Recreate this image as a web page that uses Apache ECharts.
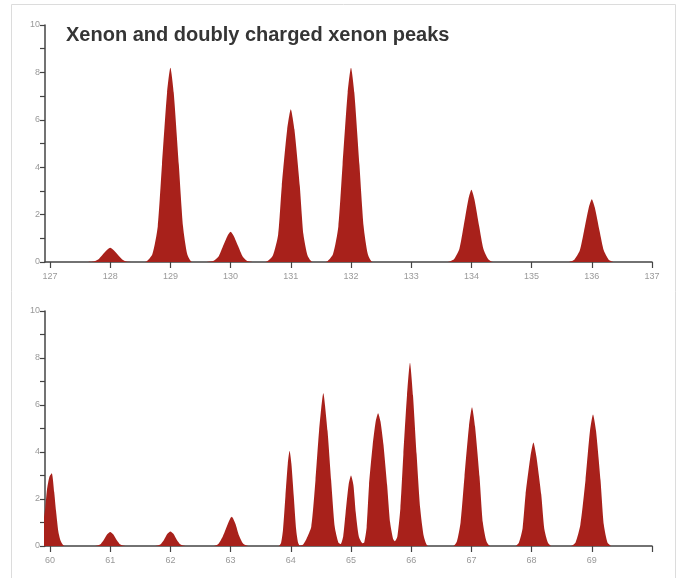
<!DOCTYPE html>
<html>
<head>
<meta charset="utf-8">
<script src="https://cdn.jsdelivr.net/npm/echarts@6/dist/echarts.min.js"></script>
<style>
  html, body { margin: 0; padding: 0; background: #fff; }
  #chart { width: 680px; height: 578px; }
</style>
</head>
<body>
<div id="chart"></div>
<script>
// top panel: xenon peaks as [mass, intensity]
var xenonCurve = [
  [127.6,0],[127.72,0.02],[127.8,0.11],[127.87,0.3],[127.95,0.52],[128,0.6],[128.05,0.52],[128.13,0.3],[128.2,0.11],[128.27,0.02],[128.36,0],
  [128.58,0],[128.7,0.33],[128.79,1.5],[128.86,4.1],[128.945,7.15],[129,8.2],[129.055,7.15],[129.14,4.1],[129.21,1.5],[129.28,0.33],[129.36,0],
  [129.6,0],[129.72,0.05],[129.8,0.23],[129.87,0.64],[129.95,1.11],[130,1.28],[130.05,1.11],[130.13,0.64],[130.2,0.23],[130.27,0.05],[130.36,0],
  [130.58,0],[130.7,0.26],[130.79,1.16],[130.85,3.2],[130.94,5.6],[131,6.45],[131.06,5.6],[131.15,3.2],[131.21,1.16],[131.28,0.26],[131.36,0],
  [131.58,0],[131.7,0.33],[131.79,1.5],[131.86,4.1],[131.945,7.15],[132,8.2],[132.055,7.15],[132.14,4.1],[132.21,1.5],[132.28,0.33],[132.36,0],
  [133.6,0],[133.71,0.12],[133.8,0.55],[133.87,1.5],[133.95,2.65],[134,3.05],[134.05,2.65],[134.13,1.5],[134.2,0.55],[134.28,0.12],[134.36,0],
  [135.6,0],[135.71,0.1],[135.8,0.48],[135.87,1.3],[135.95,2.3],[136,2.65],[136.05,2.3],[136.13,1.3],[136.2,0.48],[136.28,0.1],[136.36,0]
];

// bottom panel: doubly charged xenon and neighbours
var doubleCurve = [
  [59.86,0.5],[59.92,1.6],[59.95,2.4],[59.99,2.95],[60.03,3.1],[60.07,2.3],[60.1,1.5],[60.14,0.6],[60.18,0.2],[60.24,0],
  [60.75,0],[60.83,0.06],[60.89,0.25],[60.95,0.5],[61,0.6],[61.05,0.5],[61.11,0.25],[61.17,0.06],[61.25,0],
  [61.75,0],[61.83,0.06],[61.89,0.25],[61.95,0.52],[62,0.62],[62.05,0.52],[62.11,0.25],[62.17,0.06],[62.25,0],
  [62.72,0],[62.8,0.1],[62.87,0.4],[62.94,0.85],[63,1.2],[63.02,1.25],[63.08,0.95],[63.14,0.45],[63.21,0.1],[63.3,0],
  [63.8,0],[63.84,0.15],[63.87,0.68],[63.91,2.1],[63.95,3.5],[63.98,4.05],[64.01,3.5],[64.05,2.1],[64.09,0.68],[64.12,0.15],[64.15,0.02],
  [64.2,0.05],[64.26,0.3],[64.34,0.82],[64.41,2.8],[64.47,4.9],[64.54,6.5],[64.61,4.9],[64.67,2.8],[64.73,0.82],[64.79,0.15],[64.83,0.08],
  [64.87,0.4],[64.91,1.4],[64.96,2.6],[65,3],[65.04,2.6],[65.08,1.4],[65.13,0.4],[65.19,0.12],
  [65.22,0.15],[65.26,0.8],[65.3,2.6],[65.36,4.3],[65.41,5.3],[65.45,5.65],[65.49,5.3],[65.54,4.3],[65.6,2.6],[65.65,1],[65.7,0.3],[65.73,0.2],
  [65.77,0.4],[65.82,1.6],[65.87,3.9],[65.93,6.4],[65.98,7.8],[66.03,6.4],[66.09,3.9],[66.15,1.6],[66.21,0.4],[66.28,0],
  [66.7,0],[66.76,0.2],[66.82,1],[66.885,2.95],[66.96,5.1],[67.01,5.9],[67.06,5.1],[67.135,2.95],[67.19,1],[67.25,0.2],[67.31,0],
  [67.73,0],[67.79,0.15],[67.85,0.75],[67.9,2.2],[67.98,3.8],[68.03,4.4],[68.08,3.8],[68.16,2.2],[68.21,0.75],[68.27,0.15],[68.33,0],
  [68.65,0],[68.73,0.15],[68.81,0.9],[68.895,2.8],[68.97,4.9],[69.02,5.6],[69.07,4.9],[69.145,2.8],[69.2,0.9],[69.26,0.15],[69.32,0]
];

var topTicks = [127,128,129,130,131,132,133,134,135,136,137];
var bottomTicks = [60,61,62,63,64,65,66,67,68,69,70];
var bottomLabels = [60,61,62,63,64,65,66,67,68,69];
var yTicks = [0,1,2,3,4,5,6,7,8,9,10];
var yLabels = [0,2,4,6,8,10];

var axisColor = '#444';
var labelColor = '#999';
var peakColor = '#a8211b';

function xAxisFor(idx, min, max, ticks, labels) {
  return {
    type: 'value', gridIndex: idx, min: min, max: max,
    axisLine: { lineStyle: { color: axisColor, width: 1.5 } },
    axisTick: { customValues: ticks, length: 6, lineStyle: { color: axisColor, width: 1.2 } },
    axisLabel: { customValues: labels, color: labelColor, fontSize: 9, margin: 10, fontFamily: 'Liberation Sans' },
    splitLine: { show: false }
  };
}
function yAxisFor(idx) {
  return {
    type: 'value', gridIndex: idx, min: 0, max: 10,
    axisLine: { show: true, lineStyle: { color: axisColor, width: 1.5 } },
    axisTick: { show: true, customValues: yTicks, length: 5, lineStyle: { color: axisColor, width: 1.2 } },
    axisLabel: { customValues: yLabels, color: labelColor, fontSize: 9, margin: 5, fontFamily: 'Liberation Sans' },
    splitLine: { show: false }
  };
}
function peakSeries(idx, curve) {
  return {
    type: 'line', xAxisIndex: idx, yAxisIndex: idx,
    data: curve, showSymbol: false, smooth: 0.2,
    lineStyle: { opacity: 0 },
    areaStyle: { color: peakColor, opacity: 1 },
    silent: true, z: 1
  };
}

var chart = echarts.init(document.getElementById('chart'), null, { renderer: 'canvas' });
chart.setOption({
  animation: false,
  backgroundColor: '#fff',
  title: {
    text: 'Xenon and doubly charged xenon peaks',
    left: 61, top: 20,
    textStyle: { fontSize: 20, fontWeight: 'bold', color: '#353535', fontFamily: 'Liberation Sans' }
  },
  graphic: [{
    type: 'rect', silent: true,
    shape: { x: 11.5, y: 4.5, width: 664, height: 600 },
    style: { fill: 'none', stroke: '#dcdcdc', lineWidth: 1 }
  }],
  grid: [
    { left: 45, top: 25, width: 607, height: 237 },
    { left: 45, top: 311, width: 607, height: 235 }
  ],
  xAxis: [
    xAxisFor(0, 126.917, 137, topTicks, topTicks),
    xAxisFor(1, 59.917, 70, bottomTicks, bottomLabels)
  ],
  yAxis: [yAxisFor(0), yAxisFor(1)],
  series: [peakSeries(0, xenonCurve), peakSeries(1, doubleCurve)]
});
</script>
</body>
</html>
